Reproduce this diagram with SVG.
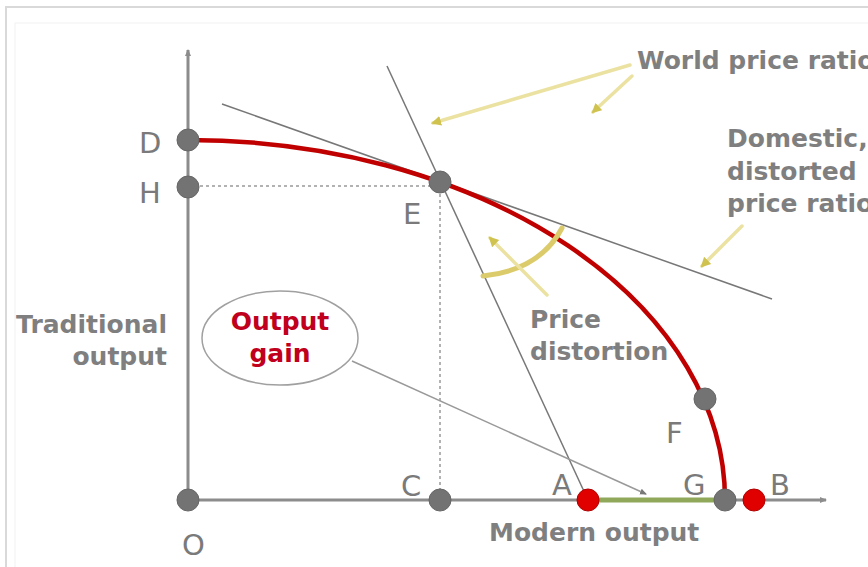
<svg xmlns="http://www.w3.org/2000/svg" width="868" height="567" viewBox="0 0 868 567">
<defs>
<style>
.lbl{font-family:"DejaVu Sans","Liberation Sans",sans-serif;font-size:29px;fill:#7a7a7a}
.bt{font-family:"DejaVu Sans","Liberation Sans",sans-serif;font-size:25px;font-weight:bold;fill:#7f7f7f}
.red{fill:#c0001c}
.dot{fill:#737373;stroke:#666;stroke-width:1}
.rdot{fill:#e00000;stroke:#b00000;stroke-width:1}
.ax{stroke:#8c8c8c;stroke-width:3;fill:none}
.thin{stroke:#777;stroke-width:1.5;fill:none}
.yel{stroke:#ebe2a2;stroke-width:3.5;fill:none;stroke-linecap:round}
</style>
<marker id="ah" markerWidth="8" markerHeight="8" refX="6" refY="4" orient="auto" markerUnits="userSpaceOnUse">
<path d="M0,1 L7,4 L0,7 Z" fill="#8c8c8c"/>
</marker>
<marker id="ahs" markerWidth="8" markerHeight="8" refX="6" refY="4" orient="auto" markerUnits="userSpaceOnUse">
<path d="M0,1 L7,4 L0,7 Z" fill="#777"/>
</marker>
<marker id="ay" markerWidth="12" markerHeight="12" refX="8" refY="6" orient="auto" markerUnits="userSpaceOnUse">
<path d="M0,1 L10,6 L0,11 Z" fill="#cfc24e"/>
</marker>
</defs>
<rect x="0" y="0" width="868" height="567" fill="#fff"/>
<rect x="6" y="7" width="900" height="600" fill="none" stroke="#d9d9d9" stroke-width="2"/>
<rect x="15" y="23" width="900" height="600" fill="none" stroke="#f2f2f2" stroke-width="1"/>

<g id="connectors">
<line class="ax" x1="188" y1="500" x2="188" y2="50" marker-end="url(#ah)"/>
<line class="ax" x1="188" y1="500" x2="826" y2="500" marker-end="url(#ah)"/>
<line x1="188" y1="186" x2="440" y2="186" stroke="#999" stroke-width="1.5" stroke-dasharray="3,3"/>
<line x1="440" y1="182" x2="440" y2="500" stroke="#999" stroke-width="1.5" stroke-dasharray="3,3"/>
<line class="thin" x1="222" y1="104" x2="772" y2="299"/>
<line class="thin" x1="387" y1="66" x2="588" y2="500"/>
<line x1="588" y1="500" x2="725" y2="500" stroke="#8fa85a" stroke-width="5"/>
<path d="M188,140 A537,360 0 0,1 725,500" fill="none" stroke="#c00000" stroke-width="4.5"/>
<line x1="352" y1="361" x2="646" y2="494" stroke="#999" stroke-width="1.5" marker-end="url(#ahs)"/>
<line class="yel" x1="630" y1="65" x2="433" y2="123" marker-end="url(#ay)"/>
<line class="yel" x1="632" y1="76" x2="593" y2="112" marker-end="url(#ay)"/>
<line class="yel" x1="742" y1="226" x2="702" y2="266" marker-end="url(#ay)"/>
<path d="M483,276 Q540,270 562,228" fill="none" stroke="#dccb6a" stroke-width="5" stroke-linecap="round"/>
<line class="yel" x1="547" y1="295" x2="490" y2="238" marker-end="url(#ay)"/>
</g>

<g id="node-O"><circle class="dot" cx="188" cy="500" r="11"/><text class="lbl" x="182" y="555">O</text></g>
<g id="node-D"><circle class="dot" cx="188" cy="140" r="11"/><text class="lbl" x="139" y="153">D</text></g>
<g id="node-H"><circle class="dot" cx="188" cy="187" r="11"/><text class="lbl" x="139" y="203">H</text></g>
<g id="node-E"><circle class="dot" cx="440" cy="182" r="11"/><text class="lbl" x="403" y="224">E</text></g>
<g id="node-C"><circle class="dot" cx="440" cy="500" r="11"/><text class="lbl" x="401" y="496">C</text></g>
<g id="node-A"><circle class="rdot" cx="588" cy="500" r="11"/><text class="lbl" x="552" y="495">A</text></g>
<g id="node-G"><circle class="dot" cx="725" cy="500" r="11"/><text class="lbl" x="683" y="495">G</text></g>
<g id="node-B"><circle class="rdot" cx="754" cy="500" r="11"/><text class="lbl" x="770" y="495">B</text></g>
<g id="node-F"><circle class="dot" cx="705" cy="399" r="11"/><text class="lbl" x="666" y="443">F</text></g>

<g id="label-world"><text class="bt" x="637" y="69">World price ratio</text></g>
<g id="label-domestic">
<text class="bt" x="727" y="147">Domestic,</text>
<text class="bt" x="727" y="180">distorted</text>
<text class="bt" x="727" y="212">price ratio</text>
</g>
<g id="label-distortion">
<text class="bt" x="530" y="328">Price</text>
<text class="bt" x="530" y="360">distortion</text>
</g>
<g id="label-traditional">
<text class="bt" x="167" y="333" text-anchor="end">Traditional</text>
<text class="bt" x="167" y="365" text-anchor="end">output</text>
</g>
<g id="label-modern"><text class="bt" x="489" y="541">Modern output</text></g>
<g id="node-gain">
<ellipse cx="280" cy="338" rx="78" ry="47" fill="#fff" stroke="#a0a0a0" stroke-width="1.5"/>
<text class="bt red" x="280" y="330" text-anchor="middle">Output</text>
<text class="bt red" x="280" y="362" text-anchor="middle">gain</text>
</g>
</svg>
